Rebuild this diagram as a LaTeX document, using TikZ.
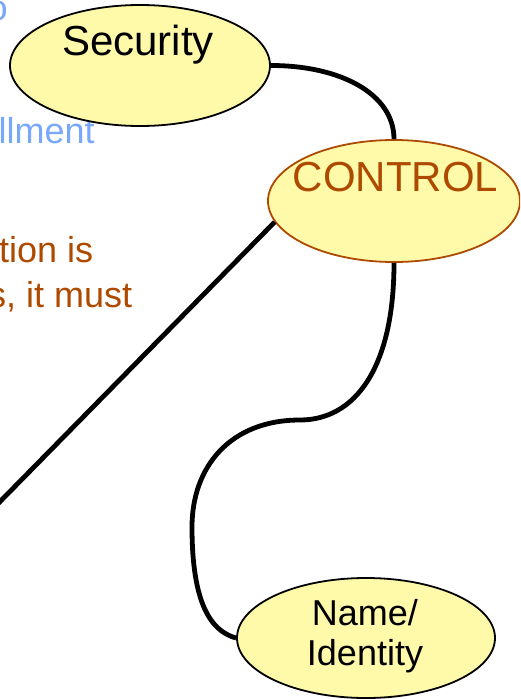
\documentclass[tikz,border=0pt]{standalone}
\usepackage{fontspec}
\setmainfont{Liberation Sans}
\usetikzlibrary{shapes.geometric}
\definecolor{nodefill}{RGB}{255,250,170}
\definecolor{ctrlbrown}{RGB}{173,74,0}
\definecolor{noteblue}{RGB}{121,168,250}
\begin{document}
\begin{tikzpicture}[x=1pt,y=-1pt,
  bubble/.style={ellipse, draw=black, line width=1.8pt, fill=nodefill, inner sep=0pt},
  link/.style={line width=4.8pt, draw=black},
  bigtext/.style={inner sep=0pt, font=\fontsize{42}{48}\selectfont},
  midtext/.style={inner sep=0pt, font=\fontsize{36}{40}\selectfont},
  notetext/.style={inner sep=0pt, anchor=base west, font=\fontsize{36}{44}\selectfont}]
\useasboundingbox (0,0) rectangle (520,699);
\clip (0,0) rectangle (520,699);

% side notes (cut off at the left edge)
\node[notetext, text=noteblue] (note1) at (-12.5,20.5) {o};
\node[notetext, text=noteblue] (note2) at (-1.5,143) {llment};
\node[notetext, text=ctrlbrown] (note3) at (-1,262) {tion is};
\node[notetext, text=ctrlbrown] (note4) at (-12,307) {s, it must};

% ellipses
\node[bubble, minimum width=260pt, minimum height=121pt] (security) at (140,65.5) {};
\node[bubble, draw=ctrlbrown, minimum width=252pt, minimum height=122pt] (control) at (394,201) {};
\node[bubble, minimum width=258pt, minimum height=120pt] (name) at (366,638) {};

% connectors
\coordinate (off) at (-20,522);
\coordinate (w1) at (300,420);
\coordinate (w2) at (192,527);
\draw[link] (security.east) .. controls +(70,0) and +(0,-45) .. (control.north);
\draw[link] (control.190) -- (off);
\draw[link] (control.south) .. controls +(0,105) and +(55,0) .. (w1)
  .. controls +(-70,0) and +(0,-60) .. (w2)
  .. controls +(0,75) and +(-26,-7) .. (name.west);

% texts
\node[bigtext, anchor=base] (securitytext) at (138,55) {Security};
\node[bigtext, anchor=base, text=ctrlbrown] (controltext) at (395.5,191) {CONTROL};
\node[midtext, anchor=base, align=center] (nametext) at (365,665) {Name/\\Identity};
\end{tikzpicture}
\end{document}
